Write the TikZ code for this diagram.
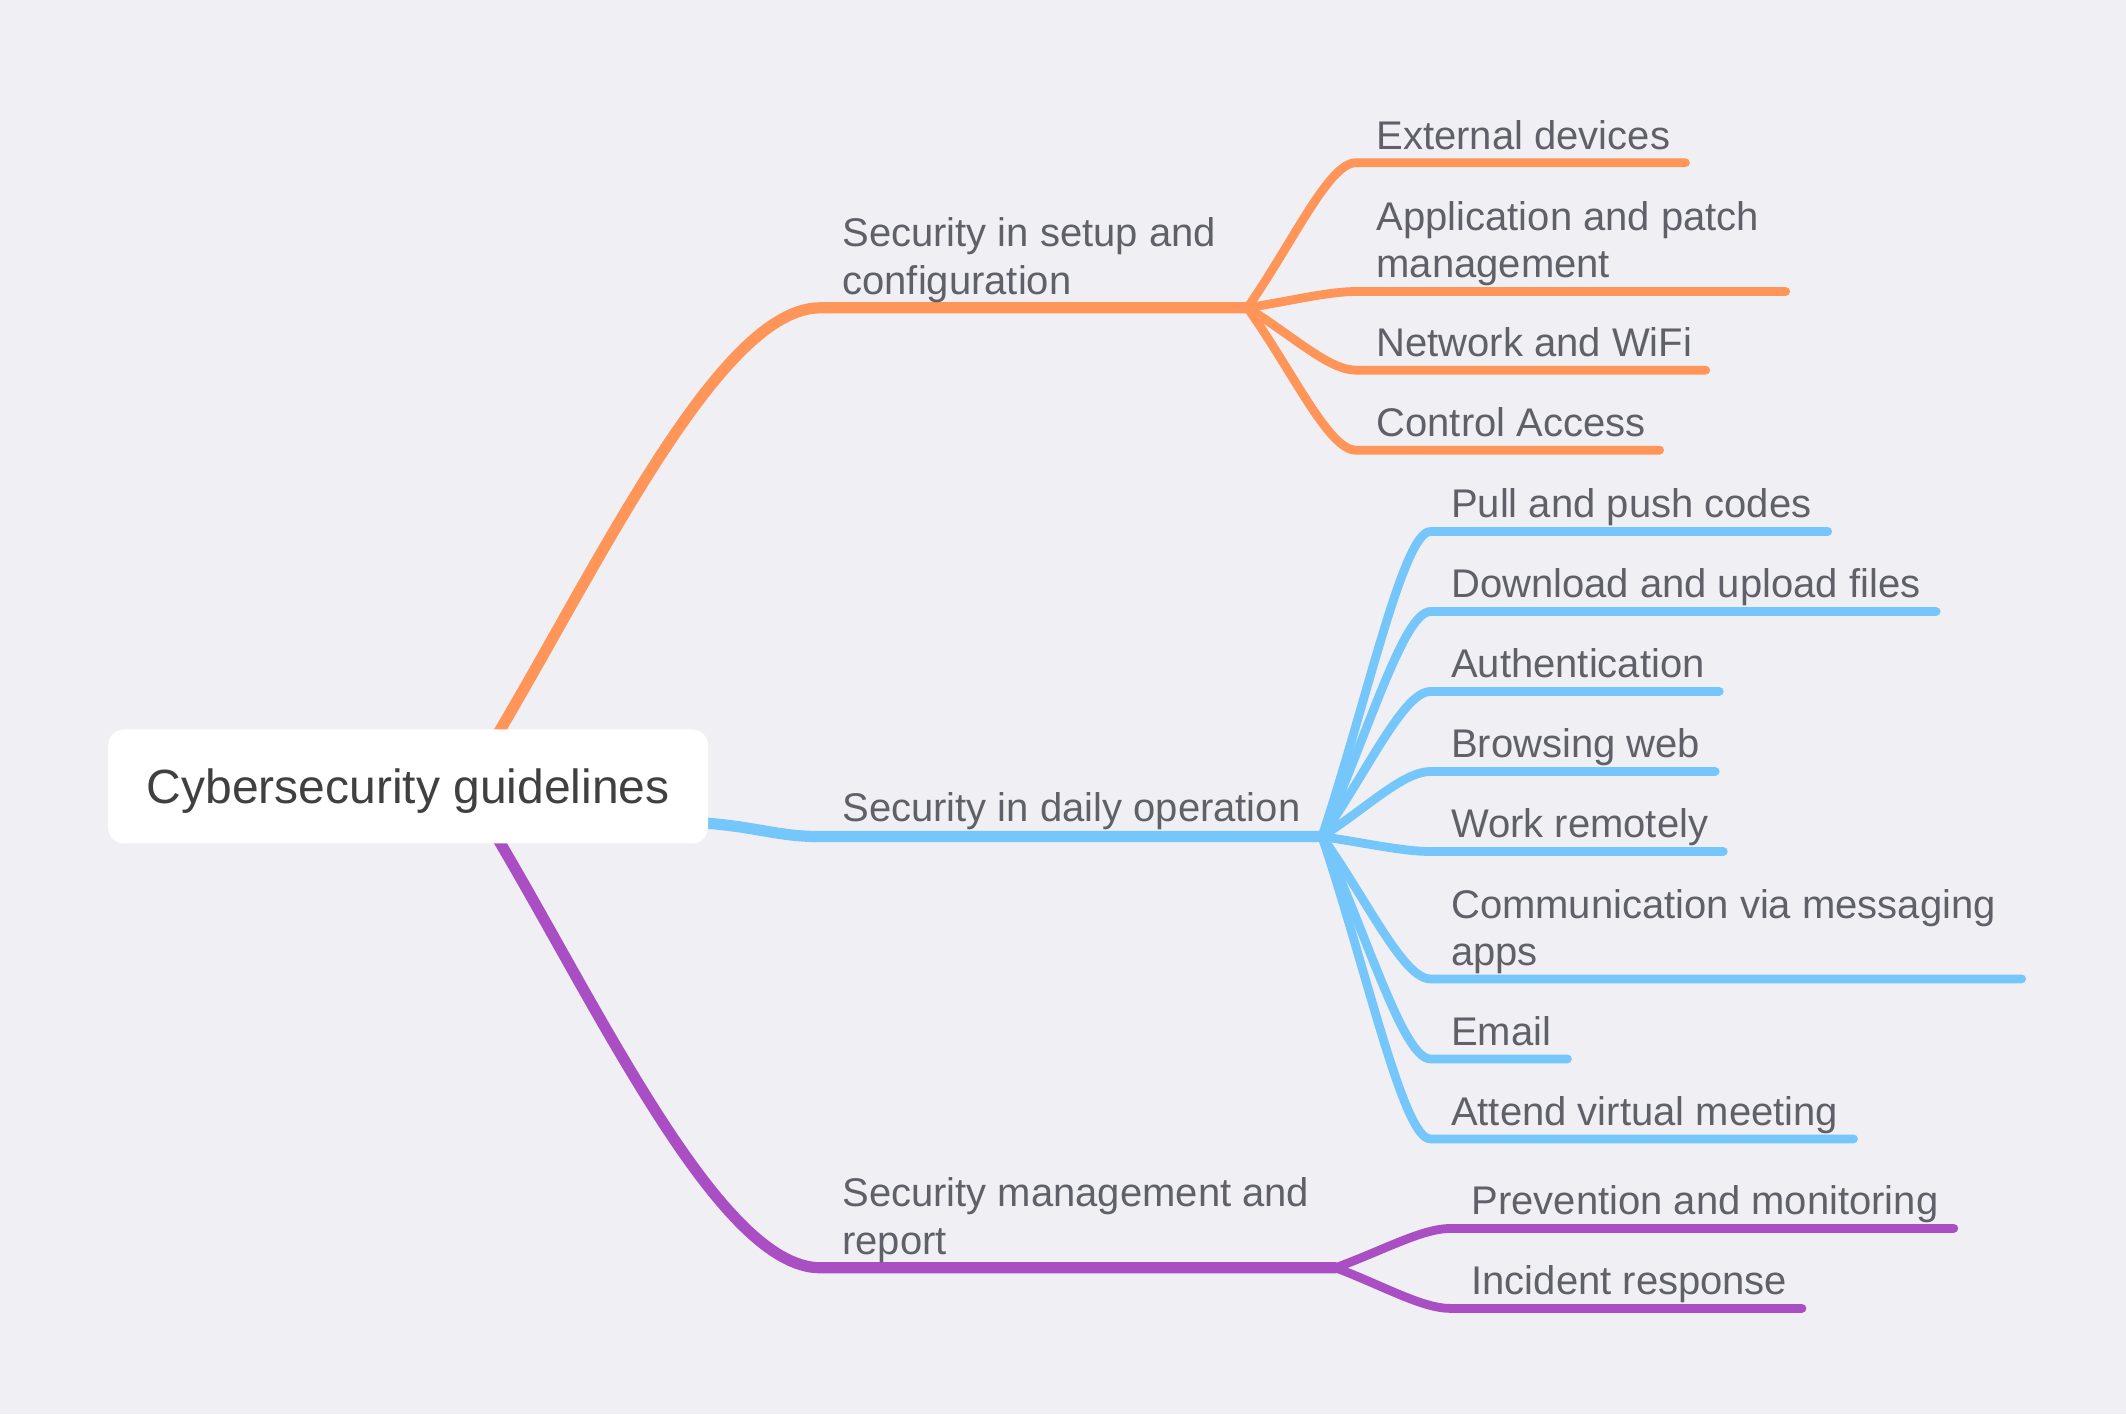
\documentclass[tikz,border=0pt]{standalone}
\usepackage{fontspec}
\setmainfont{Liberation Sans}
\usetikzlibrary{calc}
\pgfdeclarelayer{back}
\pgfdeclarelayer{lines}
\pgfsetlayers{back,lines,main}
\definecolor{bgc}{RGB}{239,239,244}
\definecolor{orng}{RGB}{255,149,88}
\definecolor{skyb}{RGB}{117,198,250}
\definecolor{purp}{RGB}{170,78,196}
\definecolor{txtg}{RGB}{96,97,104}
\definecolor{roottxt}{RGB}{64,64,64}
\tikzset{
  mainline/.style={line width=5.6pt, line cap=round},
  kidline/.style={line width=4.4pt, line cap=round},
  lbl/.style={font=\fontsize{20}{23.7}\selectfont, text=txtg, anchor=base west, inner sep=0pt, align=left},
  rootbox/.style={fill=white, rounded corners=8pt, minimum width=300pt, minimum height=57pt, inner sep=0pt, text height=21pt, text depth=4pt, font=\fontsize{24}{28}\selectfont, text=roottxt},
}
% #1 colour, #2 fork, #3 name, #4 y, #5 line start x, #6 line end x, #7 text
\newcommand\mmkid[7]{%
  \coordinate (#3s) at (#5,#4);
  \coordinate (#3e) at (#6,#4);
  \node[lbl] (#3) at ($(#3s)+(15,-10)$) {#7};
  \begin{pgfonlayer}{lines}
  \draw[kidline,#1] let \p1=(#2), \p2=(#3s) in (#2) .. controls ({\x1+0.42*(\x2-\x1)},{\y1+0.45*(\y2-\y1)}) and ({\x1+0.75*(\x2-\x1)},\y2) .. (#3s) -- (#3e);
  \end{pgfonlayer}
}
\begin{document}
\begin{tikzpicture}[x=0.678pt,y=-0.678pt]
\begin{pgfonlayer}{back}
\fill[bgc] (0,0) rectangle (1568,1043);
\end{pgfonlayer}
\useasboundingbox (0,0) rectangle (1568,1043);

\node[rootbox] (root) at (301,580) {Cybersecurity guidelines};

\coordinate (f1) at (920,227);
\coordinate (f2) at (975,617);
\coordinate (f3) at (985,935);

\node[lbl] (b1) at (621,217) {Security in setup and\\configuration};
\node[lbl] (b2) at (621,606) {Security in daily operation};
\node[lbl] (b3) at (621,925) {Security management and\\report};

\begin{pgfonlayer}{lines}
\draw[mainline,orng] ($(root.north)+(60,14)$) .. controls (440,420) and (530,227) .. (605,227) -- (f1);
\draw[mainline,skyb] ($(root.east)+(-20,26)$) .. controls (555,608) and (570,617) .. (605,617) -- (f2);
\draw[mainline,purp] ($(root.south)+(60,-14)$) .. controls (440,740) and (530,935) .. (605,935) -- (f3);
\end{pgfonlayer}

\mmkid{orng}{f1}{ext}{120}{1000}{1243}{External devices}
\mmkid{orng}{f1}{app}{215}{1000}{1317}{Application and patch\\management}
\mmkid{orng}{f1}{net}{273}{1000}{1258}{Network and WiFi}
\mmkid{orng}{f1}{ctl}{332}{1000}{1224}{Control Access}

\mmkid{skyb}{f2}{pull}{392}{1055}{1348}{Pull and push codes}
\mmkid{skyb}{f2}{down}{451}{1055}{1428}{Download and upload files}
\mmkid{skyb}{f2}{auth}{510}{1055}{1268}{Authentication}
\mmkid{skyb}{f2}{brow}{569}{1055}{1265}{Browsing web}
\mmkid{skyb}{f2}{work}{628}{1055}{1271}{Work remotely}
\mmkid{skyb}{f2}{comm}{722}{1055}{1491}{Communication via messaging\\apps}
\mmkid{skyb}{f2}{mail}{781}{1055}{1156}{Email}
\mmkid{skyb}{f2}{meet}{840}{1055}{1367}{Attend virtual meeting}

\mmkid{purp}{f3}{prev}{906}{1070}{1441}{Prevention and monitoring}
\mmkid{purp}{f3}{inc}{965}{1070}{1329}{Incident response}
\end{tikzpicture}
\end{document}
